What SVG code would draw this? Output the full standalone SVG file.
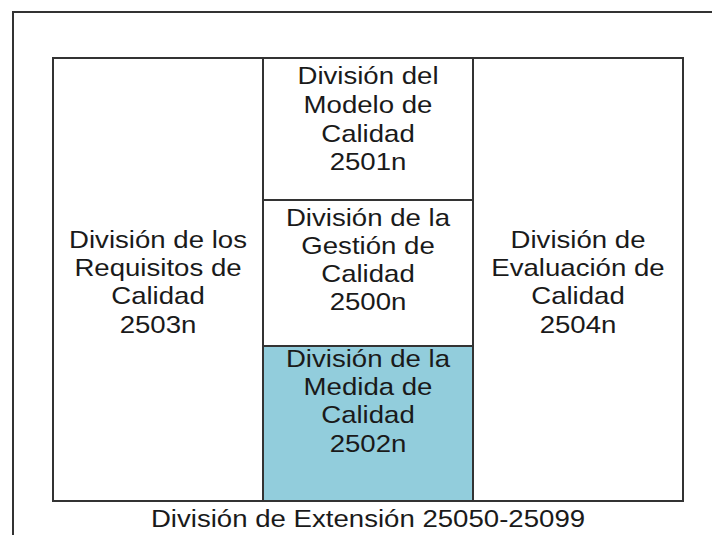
<svg xmlns="http://www.w3.org/2000/svg" width="712" height="535" viewBox="0 0 712 535">
<style>
.frame{fill:none;stroke:#333;stroke-width:2}
.cell{fill:#fff;stroke:#333;stroke-width:2}
.blue{fill:#92CDDC;stroke:#333;stroke-width:2}
text{font-family:"Liberation Sans",Arial,sans-serif;font-size:24px;fill:#1a1a1a;text-anchor:middle}
</style>
<rect x="0" y="0" width="712" height="535" fill="#fff"/>
<rect class="frame" x="13" y="12" width="720" height="540"/>
<g id="outer-box">
<rect class="cell" x="53" y="58" width="630" height="443"/>
</g>
<g id="requisitos">
<rect class="cell" x="53" y="58" width="210" height="443"/>
<g transform="translate(158 0) scale(1.15 1)">
<text x="0" y="248">División de los</text>
<text x="0" y="276">Requisitos de</text>
<text x="0" y="304">Calidad</text>
<text x="0" y="333">2503n</text>
</g>
</g>
<g id="modelo">
<rect class="cell" x="263" y="58" width="210" height="142"/>
<g transform="translate(368 0) scale(1.15 1)">
<text x="0" y="84">División del</text>
<text x="0" y="113">Modelo de</text>
<text x="0" y="142">Calidad</text>
<text x="0" y="170">2501n</text>
</g>
</g>
<g id="gestion">
<rect class="cell" x="263" y="200" width="210" height="146"/>
<g transform="translate(368 0) scale(1.15 1)">
<text x="0" y="226">División de la</text>
<text x="0" y="254">Gestión de</text>
<text x="0" y="282">Calidad</text>
<text x="0" y="310">2500n</text>
</g>
</g>
<g id="medida">
<rect class="blue" x="263" y="346" width="210" height="155"/>
<g transform="translate(368 0) scale(1.15 1)">
<text x="0" y="367">División de la</text>
<text x="0" y="395">Medida de</text>
<text x="0" y="423">Calidad</text>
<text x="0" y="452">2502n</text>
</g>
</g>
<g id="evaluacion">
<rect class="cell" x="473" y="58" width="210" height="443"/>
<g transform="translate(578 0) scale(1.15 1)">
<text x="0" y="248">División de</text>
<text x="0" y="276">Evaluación de</text>
<text x="0" y="304">Calidad</text>
<text x="0" y="333">2504n</text>
</g>
</g>
<g id="extension">
<g transform="translate(368 0) scale(1.15 1)">
<text x="0" y="527">División de Extensión 25050-25099</text>
</g>
</g>
<g id="connectors"></g>
</svg>
